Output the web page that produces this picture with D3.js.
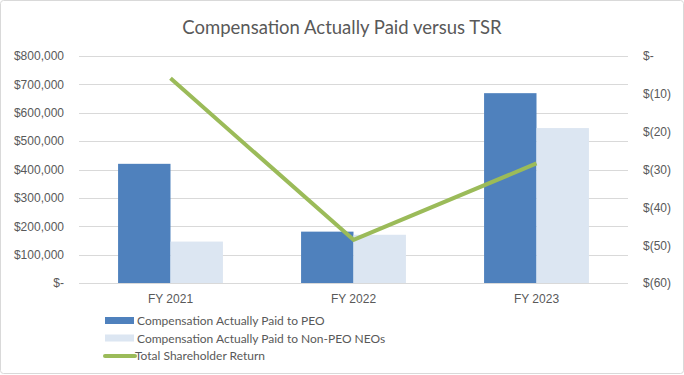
<!DOCTYPE html>
<html>
<head>
<meta charset="utf-8">
<script src="https://cdn.jsdelivr.net/npm/d3@7"></script>
<style>
  body { margin: 0; background: #fff; }
  svg { font-family: Lato, "Open Sans", sans-serif; }
</style>
</head>
<body>
<div id="chart"></div>
<script>
const years = ["FY 2021", "FY 2022", "FY 2023"];
const peoPaid = [420000, 181000, 669000];
const neoPaid = [146000, 170000, 546000];
const tsr = [-5.9, -48.6, -28.4];
const leftTicks = [0, 100000, 200000, 300000, 400000, 500000, 600000, 700000, 800000];
const rightTicks = [0, -10, -20, -30, -40, -50, -60];
const seriesNames = ["Compensation Actually Paid to PEO", "Compensation Actually Paid to Non-PEO NEOs", "Total Shareholder Return"];

const width = 684, height = 375;
const margin = { top: 56, right: 56, bottom: 92, left: 79 };
const plotW = width - margin.left - margin.right;
const plotH = height - margin.top - margin.bottom;

const darkBlue = "#4f81bd", lightBlue = "#dce6f2", green = "#9bbb59", textCol = "#595959";

const svg = d3.select("#chart")
  .append("svg")
  .attr("width", width)
  .attr("height", height);

svg.append("rect")
  .attr("x", 0.5).attr("y", 0.5)
  .attr("width", width - 1).attr("height", height - 2)
  .attr("rx", 3)
  .attr("fill", "#fff")
  .attr("stroke", "#d9d9d9");

svg.append("text")
  .attr("x", width / 2)
  .attr("y", 34)
  .attr("text-anchor", "middle")
  .attr("fill", textCol)
  .style("font-size", "18.5px")
  .text("Compensation Actually Paid versus TSR");

const g = svg.append("g")
  .attr("transform", `translate(${margin.left},${margin.top})`);

const x = d3.scaleBand().domain(years).range([0, plotW]);
const x1 = d3.scaleBand().domain([0, 1])
  .range([x.bandwidth() * 0.2135, x.bandwidth() * 0.7865]);
const y = d3.scaleLinear().domain([0, 800000]).range([plotH, 0]);
const y2 = d3.scaleLinear().domain([-60, 0]).range([plotH, 0]);

// gridlines
g.append("g")
  .selectAll("line")
  .data(leftTicks)
  .join("line")
  .attr("x1", 0).attr("x2", plotW)
  .attr("y1", d => Math.round(y(d)) + 0.5)
  .attr("y2", d => Math.round(y(d)) + 0.5)
  .attr("stroke", "#d9d9d9");

const fmtLeft = d => d === 0 ? "$-" : "$" + d3.format(",")(d);
const fmtRight = d => d === 0 ? "$-" : "$(" + Math.abs(d) + ")";

const yAxis = g.append("g")
  .call(d3.axisLeft(y).tickValues(leftTicks).tickFormat(fmtLeft).tickSize(0).tickPadding(15));
yAxis.selectAll("text").attr("fill", textCol).style("font-size", "12px");

const yAxis2 = g.append("g")
  .attr("transform", `translate(${plotW},0)`)
  .call(d3.axisRight(y2).tickValues(rightTicks).tickFormat(fmtRight).tickSize(0).tickPadding(15));
yAxis2.selectAll("text").attr("fill", textCol).style("font-size", "12px");

const xAxis = g.append("g")
  .attr("transform", `translate(0,${plotH})`)
  .call(d3.axisBottom(x).tickSize(0).tickPadding(11));
xAxis.selectAll("text").attr("fill", textCol).style("font-size", "12px");

svg.selectAll(".domain").remove();

// bars
const groups = g.selectAll(".year")
  .data(years)
  .join("g")
  .attr("transform", d => `translate(${x(d)},0)`);

groups.append("rect")
  .attr("x", x1(0))
  .attr("width", x1.bandwidth())
  .attr("y", (d, i) => y(peoPaid[i]))
  .attr("height", (d, i) => plotH - y(peoPaid[i]))
  .attr("fill", darkBlue);

groups.append("rect")
  .attr("x", x1(1))
  .attr("width", x1.bandwidth())
  .attr("y", (d, i) => y(neoPaid[i]))
  .attr("height", (d, i) => plotH - y(neoPaid[i]))
  .attr("fill", lightBlue);

// TSR line
const line = d3.line()
  .x((d, i) => x(years[i]) + x.bandwidth() / 2)
  .y(d => y2(d));

g.append("path")
  .datum(tsr)
  .attr("d", line)
  .attr("fill", "none")
  .attr("stroke", green)
  .attr("stroke-width", 4)
  .attr("stroke-linejoin", "round");

// legend
const legend = svg.append("g").attr("transform", "translate(105,321)");
const rowH = 17.5;

legend.append("rect").attr("x", 0).attr("y", -4).attr("width", 29).attr("height", 7).attr("fill", darkBlue);
legend.append("rect").attr("x", 0).attr("y", rowH - 4).attr("width", 29).attr("height", 7).attr("fill", lightBlue);
legend.append("line").attr("x1", 0).attr("x2", 30).attr("y1", rowH * 2).attr("y2", rowH * 2)
  .attr("stroke", green).attr("stroke-width", 4).attr("stroke-linecap", "round");

legend.selectAll("text")
  .data(seriesNames)
  .join("text")
  .attr("x", (d, i) => i === 2 ? 30 : 32)
  .attr("y", (d, i) => i * rowH)
  .attr("dy", "0.35em")
  .attr("fill", textCol)
  .style("font-size", "12px")
  .text(d => d);
</script>
</body>
</html>
